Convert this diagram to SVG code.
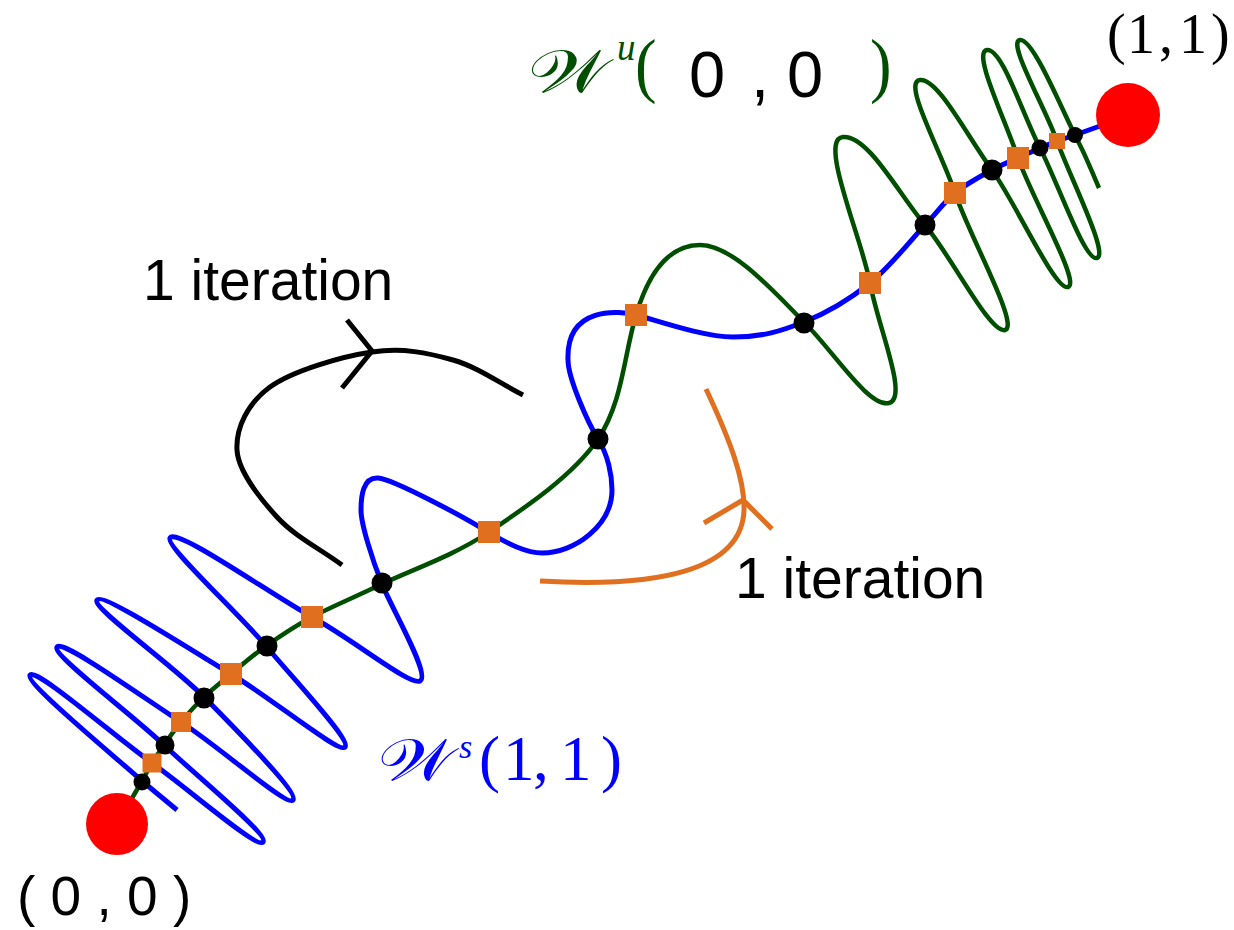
<svg xmlns="http://www.w3.org/2000/svg" width="1234" height="930" viewBox="0 0 1234 930">
<style>
.wu{fill:none;stroke:#004f00;stroke-width:4.5;stroke-linejoin:round}
.ws{fill:none;stroke:#0000ff;stroke-width:5;stroke-linejoin:round}
.it{fill:none;stroke:#000;stroke-width:5}
.io{fill:none;stroke:#e07020;stroke-width:5}
.dot{fill:#000}
.sq{fill:#e07020}
.fix{fill:#ff0000}
.lab{font-family:"Liberation Sans",Arial,sans-serif;fill:#000}
.ser{font-family:"Liberation Serif","Times New Roman",serif}
.cal{font-family:"DejaVu Serif","DejaVu Sans","Noto Sans",serif}
</style>
<rect width="1234" height="930" fill="#fff"/>
<g id="connectors">
<path id="unstable-00" class="wu" d="M117,824 C125.3,809.7 136.2,791.2 142,781 C147.8,770.8 148.3,769 152,763 C155.7,757 159.2,751.8 164,745 C168.8,738.2 174.3,730 181,722 C187.7,714 195.7,705 204,697 C212.3,689 220.7,682.5 231,674 C241.3,665.5 252.5,655.5 266,646 C279.5,636.5 292.7,627.3 312,617 C331.3,606.7 352.5,598.2 382,584 C411.5,569.8 453,556.2 489,532 C525,507.8 573.5,475.2 598,439 C622.5,402.8 624,355 636,315 C648,275 667,245 700,245 C733,245 774,292 804,322 C834,352 869,408 889,403 C909,398 878,327 870,283 C862,239 818,139 843,137 C868,135 898,193 925,225 C952,257 990,334 1005,330 C1020,326 969,235 955,193 C941,151 902,82 920,80 C938,78 967,136 992,170 C1017,205 1055,291 1068,287 C1081,283 1032,198 1018,158 C1005,119 972,52 987,50 C1002,48 1022,113 1040,148 C1058,183 1085,262 1097,258 C1109,254 1070,177 1057,141 C1044,105 1007,42 1020,40 C1033,38 1062,110 1075,135 C1088,160 1091,170 1099,188"/>
<path id="stable-11" class="ws" d="M1128,116 C1110.3,122.3 1086.8,130.8 1075,135 C1063.2,139.2 1062.8,138.8 1057,141 C1051.2,143.2 1046.5,145.2 1040,148 C1033.5,150.8 1026,154.3 1018,158 C1010,161.7 1002.5,164.2 992,170 C981.5,175.8 966.2,183.8 955,193 C943.8,202.2 939.2,210 925,225 C910.8,240 890.2,266.8 870,283 C849.8,299.2 826.8,313 804,322 C781.2,331 763,337 733,337 C703,337 652.7,319 636,315 C620,311 566,305 568,360 C568,378 588,423 598,439 C608,455 612,475 612,490 C612,525 575,553 542,553 C524,553 504,541 489,533 C470,520 393,479 378,478 C363,477 361,496 361,510 C361,524 372,559 382,584 C392,609 431,675 420,681 C410,686 353.8,640 312,617 C270.2,594 176,527 170,538 C165,546 236.8,611.2 266,646 C295.2,680.8 351,740 345,747 C339,754 272.3,698.5 231,674 C189.7,649.5 102,592 97,600 C92,608 171.3,663.7 204,697 C236.7,730.3 299,793 293,800 C287,807 220.3,747.5 181,722 C141.7,696.5 62,639 57,647 C52,655 129.7,712.5 164,745 C198.3,777.5 269,835 263,842 C257,849 190.8,790.8 152,763 C113.2,735.2 35,667 30,675 C25,683 117.5,758.5 142,781 L177,810"/>
<path id="iter-black" class="it" d="M342,565 C320.3,549 294.5,536.2 277,517 C259.5,497.8 238.2,471.7 237,450 C235.8,428.3 247.5,403.3 270,387 C292.5,370.7 341.5,356.5 372,352 C402.5,347.5 427.8,352.8 453,360 C478.2,367.2 499.7,383.3 523,395"/>
<path class="it" d="M347,320 L372,351 L342,388"/>
<path id="iter-orange" class="io" d="M706,389 C730,440 745,480 744,510 C742,570 660,588 540,581"/>
<path class="io" d="M704,523 L743,500 L772,529"/>
</g>
<g id="markers">
<g id="d1"><circle class="dot" cx="142" cy="782" r="8.5"/></g>
<g id="s1"><rect class="sq" x="142.5" y="753.5" width="19" height="19"/></g>
<g id="d2"><circle class="dot" cx="165" cy="745" r="9.5"/></g>
<g id="s2"><rect class="sq" x="171" y="712" width="20" height="20"/></g>
<g id="d3"><circle class="dot" cx="204" cy="698" r="10.5"/></g>
<g id="s3"><rect class="sq" x="220" y="663" width="22" height="22"/></g>
<g id="d4"><circle class="dot" cx="267" cy="646" r="10.5"/></g>
<g id="s4"><rect class="sq" x="301" y="606" width="22" height="22"/></g>
<g id="d5"><circle class="dot" cx="382" cy="583" r="10.5"/></g>
<g id="s5"><rect class="sq" x="478" y="521" width="22" height="22"/></g>
<g id="d6"><circle class="dot" cx="598" cy="439" r="10.5"/></g>
<g id="s6"><rect class="sq" x="625" y="304" width="22" height="22"/></g>
<g id="d7"><circle class="dot" cx="804" cy="323" r="10.5"/></g>
<g id="s7"><rect class="sq" x="859" y="272" width="22" height="22"/></g>
<g id="d8"><circle class="dot" cx="925" cy="225" r="10.5"/></g>
<g id="s8"><rect class="sq" x="944" y="182" width="22" height="22"/></g>
<g id="d9"><circle class="dot" cx="992" cy="170" r="10.5"/></g>
<g id="s9"><rect class="sq" x="1007" y="147" width="22" height="22"/></g>
<g id="d10"><circle class="dot" cx="1040" cy="148" r="8.5"/></g>
<g id="s10"><rect class="sq" x="1049" y="133" width="16" height="16"/></g>
<g id="d11"><circle class="dot" cx="1075" cy="135" r="8"/></g>
</g>
<g id="fixed-00"><circle class="fix" cx="117" cy="824" r="31"/>
<text class="lab" x="17" y="915" font-size="55" xml:space="preserve">( 0 , 0 )</text></g>
<g id="fixed-11"><circle class="fix" cx="1128" cy="115" r="32"/>
<text class="ser" font-size="56" fill="#000" x="1107 1127 1159 1179 1211" y="53">(1,1)</text></g>
<g id="label-wu" fill="#004f00">
<text class="cal" transform="translate(528,92) scale(1.28,1)" font-size="60">𝒲</text>
<text class="ser" font-style="italic" x="617" y="60" font-size="37">u</text>
<text class="ser" transform="translate(635,89) scale(1.2,1.35)" font-size="54">(</text>
<text class="lab" fill="#004f00" x="689 751 787" y="97" font-size="65">0,0</text>
<text class="ser" transform="translate(870,89) scale(1.2,1.35)" font-size="54">)</text>
</g>
<g id="label-ws" fill="#0000ff">
<text class="cal" transform="translate(378,780) scale(1.25,1)" font-size="58">𝒲</text>
<text class="ser" font-style="italic" x="459" y="758" font-size="34">s</text>
<text class="ser" x="479 503 533 560 601" y="780" font-size="63">(1,1)</text>
</g>
<g id="label-iter1"><text class="lab" x="143" y="300" font-size="57">1 iteration</text></g>
<g id="label-iter2"><text class="lab" x="735" y="598" font-size="57">1 iteration</text></g>
</svg>
